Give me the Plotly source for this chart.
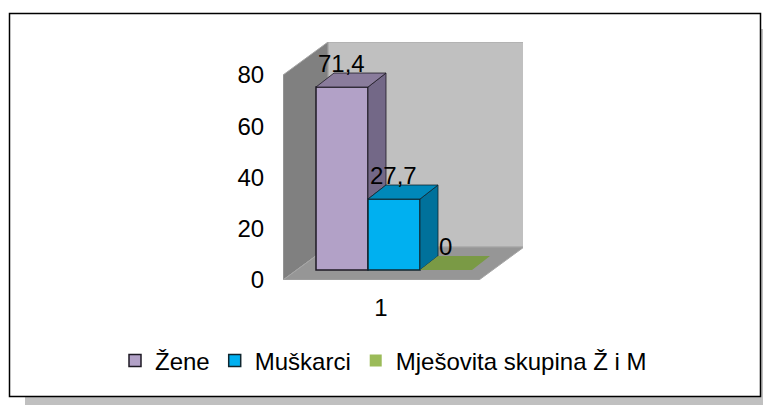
import plotly.graph_objects as go

categories = [1]
series_names = ["Žene", "Muškarci", "Mješovita skupina Ž i M"]
series_values = [71.4, 27.7, 0]
value_labels = ["71,4", "27,7", "0"]
y_ticks = [0, 20, 40, 60, 80]

front_colors = ["#B2A1C7", "#00B0F0", "#9BBB59"]
side_colors = ["#736887", "#00719B", "#647A3A"]
top_colors = ["#8A7C9C", "#0088BA", "#7A9A45"]
edge_colors = ["#1E1A24", "#10262F", "rgba(0,0,0,0)"]

W, H = 763, 405
FX0, FX1 = 283, 523
FY0, FY1 = 280, 42
FRONT_W = 196
PX_PER_UNIT = 205 / 80
WALL_DX, WALL_DY = 45, 33
BAR_LEFT, BAR_W = 316, 52
BAR_BOTTOM = 270
BAR_DX, BAR_DY = 18, 14
FONT = 24

ux = lambda px: px / FRONT_W
uy = lambda px: px / PX_PER_UNIT
x_of = lambda px: 1 + ux(px - (FX0 + FRONT_W / 2))

x_range = [x_of(FX0), x_of(FX1)]
y_range = [0, uy(FY0 - FY1)]
base = uy(FY0 - BAR_BOTTOM)
ddx, ddy = ux(BAR_DX), uy(BAR_DY)
wdx, wdy = ux(WALL_DX), uy(WALL_DY)
y_top = 80


def path(pts):
    return "M" + "L".join(f"{a},{b}" for a, b in pts) + "Z"


x0 = x_range[0]
x_fr = x_of(FX0 + FRONT_W)
wall_line = dict(color="#A6A6A6", width=1)
shapes = [
    dict(type="rect", xref="paper", yref="paper", layer="below",
         x0=25 / W, x1=1, y0=0, y1=1 - 29 / H, fillcolor="#C0C0C0", line=dict(width=0)),
    dict(type="rect", xref="paper", yref="paper", layer="below",
         x0=9.5 / W, x1=760.5 / W, y0=1 - 396.5 / H, y1=1 - 13.5 / H,
         fillcolor="#FFFFFF", line=dict(color="#000000", width=1.5)),
    dict(type="path", xref="x", yref="y", layer="below",
         path=path([(x0 + wdx, wdy), (x_fr + wdx, wdy), (x_fr + wdx, y_top + wdy), (x0 + wdx, y_top + wdy)]),
         fillcolor="#C0C0C0", line=wall_line),
    dict(type="path", xref="x", yref="y", layer="below",
         path=path([(x0, 0), (x0 + wdx, wdy), (x0 + wdx, y_top + wdy), (x0, y_top)]),
         fillcolor="#808080", line=wall_line),
    dict(type="path", xref="x", yref="y", layer="below",
         path=path([(x0, 0), (x_fr, 0), (x_fr + wdx, wdy), (x0 + wdx, wdy)]),
         fillcolor="#969696", line=wall_line),
]

fig = go.Figure()

for i, (name, v) in enumerate(zip(series_names, series_values)):
    left = x_of(BAR_LEFT) + i * ux(BAR_W)
    fig.add_trace(go.Bar(
        x=categories, y=[v], base=[base], name=name,
        width=[ux(BAR_W)], offset=[left - 1],
        marker=dict(color=front_colors[i],
                    line=dict(color=edge_colors[i], width=1.5 if i < 2 else 0)),
        hoverinfo="name+y",
    ))

for i, v in enumerate(series_values):
    left = x_of(BAR_LEFT) + i * ux(BAR_W)
    right = left + ux(BAR_W)
    top = base + v
    nxt = series_values[i + 1] if i + 1 < len(series_values) else 0
    line = dict(color=edge_colors[i], width=0.8) if i < 2 else dict(width=0)
    if v > 0:
        low = base + nxt
        fig.add_trace(go.Scatter(
            x=[right, right + ddx, right + ddx, right, right],
            y=[top, top + ddy, low + ddy, low, top],
            mode="lines", fill="toself", fillcolor=side_colors[i], line=line,
            showlegend=False, hoverinfo="skip"))
    fig.add_trace(go.Scatter(
        x=[left, right, right + ddx, left + ddx, left],
        y=[top, top, top + ddy, top + ddy, top],
        mode="lines", fill="toself", fillcolor=top_colors[i], line=line,
        showlegend=False, hoverinfo="skip"))

annotations = []
for i, (v, t) in enumerate(zip(series_values, value_labels)):
    annotations.append(dict(
        x=x_of(BAR_LEFT) + (i + 0.5) * ux(BAR_W), y=base + v, xref="x", yref="y",
        text=t, showarrow=False, yshift=24, xshift=-1, xanchor="center", yanchor="middle",
        font=dict(family="Liberation Sans", size=FONT, color="#000000")))

fig.update_layout(
    width=W, height=H, autosize=False,
    margin=dict(l=0, r=0, t=0, b=0, autoexpand=False),
    paper_bgcolor="#FFFFFF", plot_bgcolor="rgba(0,0,0,0)",
    barmode="overlay", showlegend=True,
    shapes=shapes, annotations=annotations,
    font=dict(family="Liberation Sans", size=FONT, color="#000000"),
    xaxis=dict(domain=[FX0 / W, FX1 / W], range=x_range, tickvals=categories, ticktext=["1"],
               showgrid=False, zeroline=False, showline=False,
               ticks="outside", ticklen=6, tickcolor="rgba(0,0,0,0)", tickfont=dict(size=FONT)),
    yaxis=dict(domain=[1 - FY0 / H, 1 - FY1 / H], range=y_range, tickvals=y_ticks,
               showgrid=False, zeroline=False, showline=False,
               ticks="outside", ticklen=13, tickcolor="rgba(0,0,0,0)", tickfont=dict(size=FONT)),
    legend=dict(orientation="h", x=115 / W, xanchor="left", y=1 - 361 / H, yanchor="middle",
                bgcolor="rgba(0,0,0,0)", font=dict(size=FONT), traceorder="normal"),
)

fig.write_html("out.html", config={"displayModeBar": False},
               post_script="document.body.style.margin='0';document.documentElement.style.overflow='hidden';")
